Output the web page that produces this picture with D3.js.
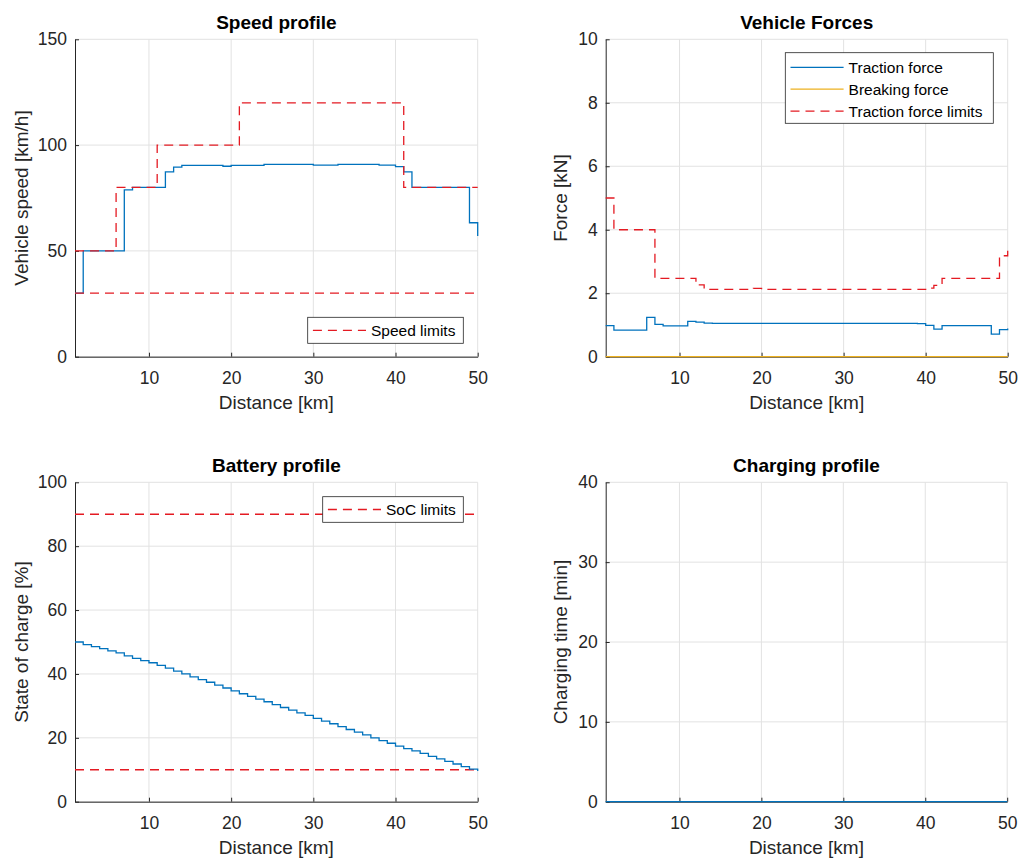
<!DOCTYPE html>
<html>
<head>
<meta charset="utf-8">
<script src="https://cdn.jsdelivr.net/npm/d3@7"></script>
<style>
  body { margin: 0; background: #ffffff; }
  svg { display: block; }
  text { font-family: "Liberation Sans", Arial, Helvetica, sans-serif; }
</style>
</head>
<body>
<svg id="chart" width="1019" height="859"></svg>
<script>
// ---------------- DATA ----------------
const distanceKm = [1,2,3,4,5,6,7,8,9,10,11,12,13,14,15,16,17,18,19,20,21,22,23,24,25,26,27,28,29,30,31,32,33,34,35,36,37,38,39,40,41,42,43,44,45,46,47,48,49,50];
const limitDistance = [1, 50];

const speedProfile = [30,50,50,50,50,50,78.8,80,80,80,80,87.3,89.6,90.4,90.4,90.4,90.4,90.4,90.0,90.4,90.4,90.4,90.4,90.9,90.9,90.9,90.9,90.9,90.9,90.5,90.5,90.5,90.9,90.9,90.9,90.9,90.9,90.5,90.5,89.8,87.3,80,80,80,80,80,80,80,63.3,57];
const speedLimitUpper = [50,50,50,50,50,80,80,80,80,80,100,100,100,100,100,100,100,100,100,100,120,120,120,120,120,120,120,120,120,120,120,120,120,120,120,120,120,120,120,120,80,80,80,80,80,80,80,80,80,80];
const speedLimitLower = [30, 30];

const tractionForce = [0.98,0.84,0.84,0.84,0.84,1.24,1.02,0.97,0.97,0.97,1.11,1.09,1.06,1.05,1.05,1.05,1.05,1.05,1.05,1.05,1.05,1.05,1.05,1.05,1.05,1.05,1.05,1.05,1.05,1.05,1.05,1.05,1.05,1.05,1.05,1.05,1.05,1.05,1.04,0.99,0.87,0.98,0.98,0.98,0.98,0.98,0.98,0.71,0.85,0.89];
const breakingForce = [0, 0];
const tractionForceLimit = [5.0,4.0,4.0,4.0,4.0,4.0,2.47,2.47,2.47,2.47,2.47,2.26,2.12,2.12,2.12,2.12,2.12,2.12,2.15,2.12,2.12,2.12,2.12,2.12,2.12,2.12,2.12,2.12,2.12,2.12,2.12,2.12,2.12,2.12,2.12,2.12,2.12,2.12,2.12,2.16,2.25,2.47,2.47,2.47,2.47,2.47,2.47,2.47,3.18,3.5];

const stateOfCharge = [50.0,49.2,48.55,47.9,47.25,46.6,45.65,44.9,44.2,43.5,42.7,41.8,40.9,40.0,39.1,38.2,37.4,36.5,35.6,34.7,33.8,33.0,32.1,31.3,30.4,29.5,28.7,27.8,27.0,26.1,25.2,24.4,23.5,22.6,21.8,20.9,20.0,19.1,18.3,17.4,16.6,15.9,15.1,14.2,13.4,12.6,11.8,11.0,10.2,9.6];
const socLimitUpper = [90, 90];
const socLimitLower = [10, 10];

const chargingTime = [0, 0];

const xTicks = [10, 20, 30, 40, 50];
const speedTicks = [0, 50, 100, 150];
const forceTicks = [0, 2, 4, 6, 8, 10];
const socTicks = [0, 20, 40, 60, 80, 100];
const chargeTicks = [0, 10, 20, 30, 40];

// ---------------- STYLE ----------------
const BLUE = "#0072BD";
const YELLOW = "#EDB120";
const RED = "#E41A22";
const AXIS = "#262626";
const GRID = "#e2e2e2";
const DASH = "9,6";

const svg = d3.select("#chart");

function seriesOf(xs, ys) { return xs.map((x, i) => ({x: x, y: ys[i]})); }

const panels = [
  {
    left: 75, right: 477.7, top: 39.3, bottom: 356.7,
    yDomain: [0, 150], yTicks: speedTicks,
    title: "Speed profile", ylabel: "Vehicle speed [km/h]", ylabelOffset: 47,
    series: [
      {data: seriesOf(distanceKm, speedProfile), color: BLUE},
      {data: seriesOf(distanceKm, speedLimitUpper), color: RED, dash: true},
      {data: seriesOf(limitDistance, speedLimitLower), color: RED, dash: true}
    ],
    legend: {x: 307.7, y: 317.3, w: 155.6, h: 26,
      entries: [{label: "Speed limits", color: RED, dash: true}]}
  },
  {
    left: 605.7, right: 1007.7, top: 39.3, bottom: 356.7,
    yDomain: [0, 10], yTicks: forceTicks,
    title: "Vehicle Forces", ylabel: "Force [kN]", ylabelOffset: 38.5,
    series: [
      {data: seriesOf(distanceKm, tractionForce), color: BLUE},
      {data: seriesOf(limitDistance, breakingForce), color: YELLOW},
      {data: seriesOf(distanceKm, tractionForceLimit), color: RED, dash: true}
    ],
    legend: {x: 785.3, y: 52.7, w: 208, h: 70.6,
      entries: [
        {label: "Traction force", color: BLUE},
        {label: "Breaking force", color: YELLOW},
        {label: "Traction force limits", color: RED, dash: true}
      ]}
  },
  {
    left: 75, right: 477.7, top: 482.3, bottom: 801.7,
    yDomain: [0, 100], yTicks: socTicks,
    title: "Battery profile", ylabel: "State of charge [%]", ylabelOffset: 47,
    series: [
      {data: seriesOf(limitDistance, socLimitUpper), color: RED, dash: true},
      {data: seriesOf(limitDistance, socLimitLower), color: RED, dash: true},
      {data: seriesOf(distanceKm, stateOfCharge), color: BLUE}
    ],
    legend: {x: 322.7, y: 496.7, w: 140.6, h: 25.6,
      entries: [{label: "SoC limits", color: RED, dash: true}]}
  },
  {
    left: 605.7, right: 1007.2, top: 482.3, bottom: 801.7,
    yDomain: [0, 40], yTicks: chargeTicks,
    title: "Charging profile", ylabel: "Charging time [min]", ylabelOffset: 38.5,
    series: [
      {data: seriesOf(limitDistance, chargingTime), color: BLUE}
    ],
    legend: null
  }
];

panels.forEach(p => {
  const g = svg.append("g");
  const x = d3.scaleLinear().domain([1, 50]).range([p.left, p.right]);
  const y = d3.scaleLinear().domain(p.yDomain).range([p.bottom, p.top]);

  // grid
  g.append("g").selectAll("line.vg").data(xTicks).join("line")
    .attr("x1", d => x(d)).attr("x2", d => x(d))
    .attr("y1", p.top).attr("y2", p.bottom)
    .attr("stroke", GRID).attr("stroke-width", 1);
  g.append("g").selectAll("line.hg").data(p.yTicks).join("line")
    .attr("x1", p.left).attr("x2", p.right)
    .attr("y1", d => y(d)).attr("y2", d => y(d))
    .attr("stroke", GRID).attr("stroke-width", 1);

  // axes
  const xAxis = d3.axisBottom(x).tickValues(xTicks).tickFormat(d3.format("d"))
    .tickSizeInner(-4).tickSizeOuter(0).tickPadding(15);
  const gx = g.append("g").attr("transform", `translate(0,${p.bottom})`).call(xAxis);
  const yAxis = d3.axisLeft(y).tickValues(p.yTicks).tickFormat(d3.format("d"))
    .tickSizeInner(-4).tickSizeOuter(0).tickPadding(8);
  const gy = g.append("g").attr("transform", `translate(${p.left},0)`).call(yAxis);
  [gx, gy].forEach(a => {
    a.select(".domain").attr("stroke", AXIS).attr("stroke-width", 1);
    a.selectAll(".tick line").attr("stroke", AXIS).attr("stroke-width", 1);
    a.selectAll(".tick text").attr("fill", AXIS)
      .style("font-size", "17.5px")
      .style("font-family", '"Liberation Sans", Arial, sans-serif');
  });

  // series (stairs)
  const line = d3.line().x(d => x(d.x)).y(d => y(d.y)).curve(d3.curveStepAfter);
  p.series.forEach(s => {
    g.append("path").datum(s.data)
      .attr("d", line)
      .attr("fill", "none")
      .attr("stroke", s.color)
      .attr("stroke-width", 1.3)
      .attr("stroke-dasharray", s.dash ? DASH : null);
  });

  // title
  g.append("text")
    .attr("x", (p.left + p.right) / 2).attr("y", p.top - 10)
    .attr("text-anchor", "middle")
    .style("font-size", "19px").style("font-weight", "bold")
    .attr("fill", "#000")
    .text(p.title);

  // x label
  g.append("text")
    .attr("x", (p.left + p.right) / 2).attr("y", p.bottom + 52.5)
    .attr("text-anchor", "middle")
    .style("font-size", "19px")
    .attr("fill", AXIS)
    .text("Distance [km]");

  // y label
  g.append("text")
    .attr("transform", `translate(${p.left - p.ylabelOffset},${(p.top + p.bottom) / 2}) rotate(-90)`)
    .attr("text-anchor", "middle")
    .style("font-size", "19px")
    .attr("fill", AXIS)
    .text(p.ylabel);

  // legend
  if (p.legend) {
    const L = p.legend;
    const lg = g.append("g").attr("transform", `translate(${L.x},${L.y})`);
    lg.append("rect").attr("x", 0).attr("y", 0).attr("width", L.w).attr("height", L.h)
      .attr("fill", "#fff").attr("stroke", AXIS).attr("stroke-width", 0.8);
    const rowH = L.entries.length > 1 ? 21.9 : 0;
    const firstY = L.entries.length > 1 ? 14.6 : L.h / 2;
    L.entries.forEach((e, i) => {
      const cy = firstY + i * rowH;
      lg.append("line").attr("x1", 5.2).attr("x2", 58.3).attr("y1", cy).attr("y2", cy)
        .attr("stroke", e.color).attr("stroke-width", 1.3)
        .attr("stroke-dasharray", e.dash ? DASH : null);
      lg.append("text").attr("x", 63.3).attr("y", cy + 5.5)
        .style("font-size", "15.5px").attr("fill", "#000")
        .text(e.label);
    });
  }
});
</script>
</body>
</html>
